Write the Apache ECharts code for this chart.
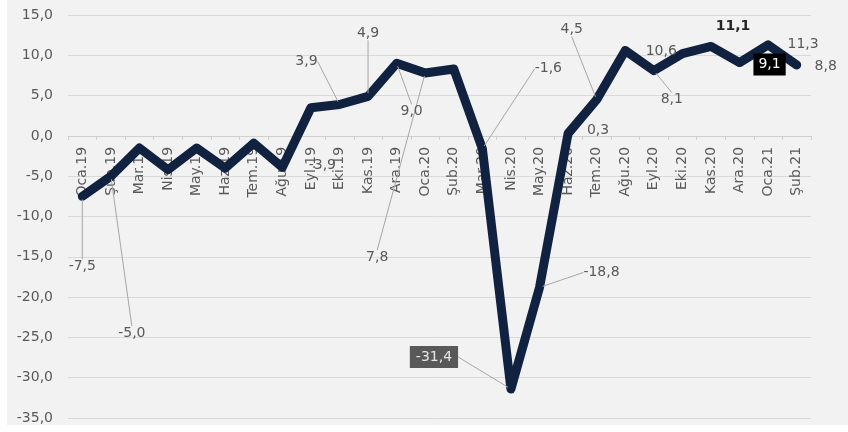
<!DOCTYPE html>
<html>
<head>
<meta charset="utf-8">
<script src="https://cdn.jsdelivr.net/npm/echarts@6/dist/echarts.min.js"></script>
<style>
  html, body { margin: 0; padding: 0; background: #ffffff; }
  #chart { position: absolute; left: 7px; top: 0; width: 841px; height: 425px; }
</style>
</head>
<body>
<div id="chart"></div>
<script>
// ---- data ----
const categories = ['Oca.19','Şub.19','Mar.19','Nis.19','May.19','Haz.19','Tem.19','Ağu.19','Eyl.19','Eki.19','Kas.19','Ara.19',
  'Oca.20','Şub.20','Mar.20','Nis.20','May.20','Haz.20','Tem.20','Ağu.20','Eyl.20','Eki.20','Kas.20','Ara.20','Oca.21','Şub.21'];
const values = [-7.5, -5.0, -1.5, -4.2, -1.5, -4.0, -0.9, -3.9, 3.5, 3.9, 4.9, 9.0,
  7.8, 8.3, -1.6, -31.4, -18.8, 0.3, 4.5, 10.6, 8.1, 10.2, 11.1, 9.1, 11.3, 8.8];
const labelled = [0, 1, 7, 9, 10, 11, 12, 14, 15, 16, 17, 18, 19, 20, 22, 23, 24, 25];
const yTicks = { min: -35, max: 15, interval: 5 };

// ---- layout (styles only) ----
const G = { left: 61, right: 37, top: 15, bottom: 7, height: 425 };
const plotH = G.height - G.top - G.bottom;
const zeroOffset = -plotH * (0 - yTicks.min) / (yTicks.max - yTicks.min);

const labelOffsets = {
  0: [0, 70, true], 1: [21, 157, true], 7: [40, -2, false], 9: [-33, -43, true],
  10: [0, -63, true], 11: [15, 48, true], 12: [-48, 184, true], 14: [66, -80, true],
  15: [-77, -32, true], 16: [62, -15, true], 17: [30, -3, false], 18: [-25, -70, true],
  19: [36, 1, false], 20: [18, 29, true], 22: [22, -20, false], 23: [30, 2, false],
  24: [35, 0, false], 25: [29, 1, false]
};
const specialLabel = {
  15: { backgroundColor: '#595959', color: '#e6e6e6', padding: [4, 6] },
  22: { color: '#262626', fontWeight: 'bold' },
  23: { backgroundColor: '#000000', color: '#ffffff', padding: [4, 5] }
};

const fmt = v => v.toFixed(1).replace('.', ',');

const seriesData = values.map((v, i) => {
  const item = { value: v };
  if (labelled.indexOf(i) >= 0) {
    item.label = Object.assign({ show: true }, specialLabel[i] || {});
    item.labelLine = { show: labelOffsets[i][2] };
  } else {
    item.label = { show: false };
  }
  return item;
});

const chart = echarts.init(document.getElementById('chart'));
chart.setOption({
  backgroundColor: '#f2f2f2',
  animation: false,
  grid: { left: G.left, right: G.right, top: G.top, bottom: G.bottom, containLabel: false, outerBoundsMode: 'none' },
  xAxis: {
    type: 'category',
    data: categories,
    boundaryGap: true,
    position: 'bottom',
    offset: zeroOffset,
    axisLine: { show: true, onZero: false, lineStyle: { color: '#cfcfcf', width: 1 } },
    axisTick: { show: true, length: 4, lineStyle: { color: '#cfcfcf' } },
    axisLabel: {
      rotate: 90, interval: 0, margin: 11, hideOverlap: false,
      fontFamily: 'DejaVu Sans', fontSize: 14, color: '#595959'
    },
    splitLine: { show: false },
    z: 1
  },
  yAxis: {
    type: 'value',
    min: yTicks.min, max: yTicks.max, interval: yTicks.interval,
    axisLine: { show: false },
    axisTick: { show: false },
    axisLabel: {
      fontFamily: 'DejaVu Sans', fontSize: 14, color: '#595959', margin: 15,
      formatter: v => fmt(v)
    },
    splitLine: { lineStyle: { color: '#d9d9d9', width: 1 } }
  },
  series: [{
    type: 'line',
    data: seriesData,
    symbol: 'circle',
    symbolSize: 6,
    showSymbol: true,
    itemStyle: { color: '#102240' },
    lineStyle: { color: '#102240', width: 9, join: 'round', cap: 'round' },
    label: {
      position: 'inside',
      fontFamily: 'DejaVu Sans', fontSize: 14, color: '#595959',
      formatter: p => fmt(p.value)
    },
    labelLine: { show: true, lineStyle: { color: '#a6a6a6', width: 1 } },
    labelLayout: p => {
      const o = labelOffsets[p.dataIndex];
      return o ? { dx: o[0], dy: o[1] } : {};
    },
    z: 3
  }]
});
</script>
</body>
</html>
